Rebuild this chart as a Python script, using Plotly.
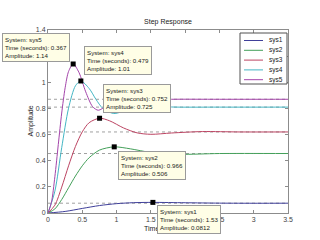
import plotly.graph_objects as go

# ---- data ----
names = ["sys1", "sys2", "sys3", "sys4", "sys5"]
colors = ["#40409a", "#44a05a", "#bc4462", "#44b6c4", "#a444aa"]

t_sys1 = [0, 0.25, 0.5, 0.75, 1.0, 1.25, 1.53, 2.0, 2.5, 3.06, 3.5]
y_sys1 = [0, 0.012, 0.035, 0.057, 0.0715, 0.079, 0.0812, 0.0785, 0.0754, 0.0745, 0.075]

t_sys2 = [0, 0.1, 0.2, 0.3, 0.4, 0.5, 0.6, 0.75, 0.966, 1.2, 1.5, 1.93, 2.5, 3.5]
y_sys2 = [0, 0.031, 0.103, 0.193, 0.283, 0.361, 0.423, 0.481, 0.506, 0.491, 0.463, 0.449, 0.455, 0.455]

t_sys3 = [0, 0.1, 0.2, 0.3, 0.4, 0.5, 0.6, 0.752, 0.9, 1.1, 1.3, 1.5, 1.8, 2.25, 2.8, 3.5]
y_sys3 = [0, 0.060, 0.198, 0.361, 0.509, 0.621, 0.691, 0.725, 0.705, 0.651, 0.613, 0.602, 0.612, 0.623, 0.620, 0.620]

t_sys4 = [0, 0.1, 0.2, 0.3, 0.4, 0.479, 0.6, 0.7, 0.8, 0.958, 1.1, 1.3, 1.44, 1.8, 2.5, 3.5]
y_sys4 = [0, 0.167, 0.500, 0.802, 0.973, 1.01, 0.953, 0.869, 0.800, 0.761, 0.779, 0.815, 0.822, 0.811, 0.81, 0.81]

t_sys5 = [0, 0.05, 0.1, 0.15, 0.2, 0.25, 0.3, 0.367, 0.45, 0.55, 0.65, 0.734, 0.85, 1.0, 1.1, 1.3, 1.47, 1.8, 2.5, 3.5]
y_sys5 = [0, 0.081, 0.277, 0.524, 0.765, 0.958, 1.083, 1.14, 1.077, 0.927, 0.814, 0.786, 0.820, 0.883, 0.896, 0.873, 0.865, 0.870, 0.87, 0.87]

final_values = [0.075, 0.455, 0.62, 0.81, 0.87]

peak_times = [1.53, 0.966, 0.752, 0.479, 0.367]
peak_values = [0.0812, 0.506, 0.725, 1.01, 1.14]

x_ticks = [0, 0.5, 1, 1.5, 2, 2.5, 3, 3.5]
y_ticks = [0, 0.2, 0.4, 0.6, 0.8, 1.0, 1.2, 1.4]

times = [t_sys1, t_sys2, t_sys3, t_sys4, t_sys5]
values = [y_sys1, y_sys2, y_sys3, y_sys4, y_sys5]

# ---- layout geometry (pixels) ----
W, H = 320, 240
L, R, T, B = 48, 288, 30, 213
FONT = "Liberation Sans, Arial, sans-serif"

def px(xp):
    return (xp - L) / (R - L)

def py(yp):
    return (B - yp) / (B - T)

fig = go.Figure()

# steady-state dotted lines
for fv in final_values:
    fig.add_trace(go.Scatter(x=[x_ticks[0], x_ticks[-1]], y=[fv, fv], mode="lines",
                             line=dict(color="#a0a0a0", width=1, dash="dot"),
                             showlegend=False, hoverinfo="skip"))

for n, c, t, v in zip(names, colors, times, values):
    fig.add_trace(go.Scatter(x=t, y=v, mode="lines", name=n,
                             line=dict(color=c, width=1, shape="spline", smoothing=0.8),
                             showlegend=False))

fig.add_trace(go.Scatter(x=peak_times, y=peak_values, mode="markers",
                         marker=dict(symbol="square", size=5, color="black"),
                         showlegend=False))

annotations = []
# axis titles (drawn first so datatips overlap them)
annotations.append(dict(text="Time (seconds)", xref="paper", yref="paper",
                        x=0.5, y=py(229), xanchor="center", yanchor="middle",
                        showarrow=False, font=dict(size=7, color="#222", family=FONT)))
annotations.append(dict(text="Amplitude", xref="paper", yref="paper",
                        x=px(30), y=0.5, xanchor="center", yanchor="middle", textangle=-90,
                        showarrow=False, font=dict(size=7, color="#222", family=FONT)))

# datatips
tip_pos = {
    "sys1": ("left", "top", 4, -3),
    "sys2": ("left", "top", 4, -4),
    "sys3": ("left", "bottom", 3, 5),
    "sys4": ("left", "bottom", 3, 6),
    "sys5": ("right", "bottom", -3, 2),
}
for n, pt, pv in zip(names, peak_times, peak_values):
    xa, ya, xs, ys = tip_pos[n]
    txt = f"System: {n}<br>Time (seconds): {pt:g}<br>Amplitude: {pv:g}"
    annotations.append(dict(text=txt, x=pt, y=pv, xref="x", yref="y",
                            xanchor=xa, yanchor=ya, xshift=xs, yshift=ys,
                            showarrow=False, align="left",
                            bgcolor="#fffee6", bordercolor="#9a9a9a", borderwidth=1,
                            borderpad=2,
                            font=dict(size=6.2, color="#222", family=FONT)))

# manual legend
shapes = []
lx0, lx1, ly0, ly1 = 240, 287, 33, 84
shapes.append(dict(type="rect", xref="paper", yref="paper",
                   x0=px(lx0), x1=px(lx1), y0=py(ly1), y1=py(ly0),
                   line=dict(color="#505050", width=1), fillcolor="white", layer="above"))
for i, (n, c) in enumerate(zip(names, colors)):
    yy = 40.5 + i * 9.8
    shapes.append(dict(type="line", xref="paper", yref="paper",
                       x0=px(244), x1=px(263), y0=py(yy), y1=py(yy),
                       line=dict(color=c, width=1), layer="above"))
    annotations.append(dict(text=n, xref="paper", yref="paper", x=px(267), y=py(yy),
                            xanchor="left", yanchor="middle", showarrow=False,
                            font=dict(size=6.5, color="#222", family=FONT)))

fig.update_layout(
    width=W, height=H,
    margin=dict(l=L, r=W - R, t=T, b=H - B, pad=0),
    paper_bgcolor="white", plot_bgcolor="white",
    showlegend=False,
    title=dict(text="Step Response", x=0.5, xref="paper", y=1 - 22 / H, yref="container",
               xanchor="center", yanchor="middle",
               font=dict(size=7, color="#222", family=FONT)),
    annotations=annotations,
    shapes=shapes,
    font=dict(family=FONT, size=7, color="#333"),
)

axis_common = dict(showgrid=False, zeroline=False, showline=True, linecolor="#8c8c8c",
                   linewidth=1, mirror="ticks", ticks="inside", ticklen=3,
                   tickcolor="#8c8c8c", tickfont=dict(size=7, color="#444", family=FONT),
                   fixedrange=True)
fig.update_xaxes(range=[x_ticks[0], x_ticks[-1]], tickvals=x_ticks,
                 ticktext=[f"{v:g}" for v in x_ticks], **axis_common)
fig.update_yaxes(range=[y_ticks[0], y_ticks[-1]], tickvals=y_ticks,
                 ticktext=[f"{v:g}" for v in y_ticks], **axis_common)

fig.write_html("out.html")
